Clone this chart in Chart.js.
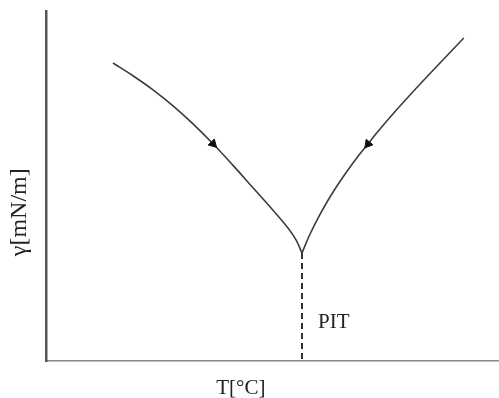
<!DOCTYPE html>
<html>
<head>
<meta charset="utf-8">
<title>PIT</title>
<script src="https://cdn.jsdelivr.net/npm/chart.js@4/dist/chart.umd.min.js"></script>
<style>
  html, body { margin: 0; padding: 0; background: #fff; }
  canvas { display: block; }
</style>
</head>
<body>
<canvas id="pitChart" width="499" height="398"></canvas>
<script>
// cooling branch (left) and heating branch (right), arbitrary units 0..100
const coolT = [14.79, 19.21, 23.62, 28.04, 32.45, 36.87, 41.28, 45.70, 50.11, 53.42, 55.19, 56.51];
const coolGamma = [85.14, 81.49, 77.49, 72.91, 67.77, 62.06, 55.89, 49.49, 43.09, 38.0, 34.6, 30.86];
const heatT = [56.51, 58.19, 60.40, 62.96, 65.87, 69.09, 71.08, 72.63, 76.38, 80.35, 84.46, 88.65, 92.23];
const heatGamma = [30.86, 36.0, 41.71, 47.43, 53.14, 58.86, 62.0, 64.57, 70.29, 76.0, 81.71, 87.43, 92.29];
const pitT = 56.51;
const pitGamma = 30.86;

// which point of each branch carries the arrow head
const coolArrowAt = 5;
const heatArrowAt = 6;

const xTitle = 'T[°C]';
const yTitle = 'γ[mN/m]';
const pitText = 'PIT';

const toPoints = (xs, ys) => xs.map((x, i) => ({ x: x, y: ys[i] }));

const arrowRadius = at => ctx => ctx.dataIndex === at ? 5 : 0;

// text labels drawn on top of the chart
const labels = {
  id: 'labels',
  afterDraw(chart) {
    const c = chart.ctx;
    const area = chart.chartArea;
    const xs = chart.scales.x;
    const ys = chart.scales.y;
    c.save();
    c.fillStyle = '#222';
    c.font = '21px "Liberation Serif", "Times New Roman", serif';
    c.textBaseline = 'alphabetic';
    c.textAlign = 'left';
    c.fillText(pitText, xs.getPixelForValue(pitT) + 16, ys.getPixelForValue(9.4));

    c.textAlign = 'center';
    c.textBaseline = 'middle';
    c.fillText(xTitle, area.left + (area.right - area.left) * 0.43, area.bottom + 27);

    c.font = '24px "Liberation Serif", "Times New Roman", serif';
    c.translate(area.left - 26, area.top + (area.bottom - area.top) * 0.575);
    c.rotate(-Math.PI / 2);
    c.fillText(yTitle, 0, 0);
    c.restore();
  }
};

new Chart(document.getElementById('pitChart'), {
  type: 'line',
  data: {
    datasets: [{
      label: 'cooling',
      data: toPoints(coolT, coolGamma),
      borderColor: '#3c3c3c',
      borderWidth: 1.6,
      tension: 0.4,
      pointStyle: 'triangle',
      pointRadius: arrowRadius(coolArrowAt),
      pointRotation: 135,
      pointBackgroundColor: '#111',
      pointBorderColor: '#111',
      pointBorderWidth: 1
    }, {
      label: 'heating',
      data: toPoints(heatT, heatGamma),
      borderColor: '#3c3c3c',
      borderWidth: 1.6,
      tension: 0.4,
      pointStyle: 'triangle',
      pointRadius: arrowRadius(heatArrowAt),
      pointRotation: 219,
      pointBackgroundColor: '#111',
      pointBorderColor: '#111',
      pointBorderWidth: 1
    }, {
      label: 'PIT',
      data: [{ x: pitT, y: pitGamma }, { x: pitT, y: 0 }],
      borderColor: '#333',
      borderWidth: 2,
      borderDash: [6, 4],
      pointRadius: 0
    }]
  },
  options: {
    responsive: false,
    animation: false,
    layout: { padding: { left: 46, top: 11, right: 0, bottom: 37 } },
    plugins: {
      legend: { display: false },
      tooltip: { enabled: false }
    },
    scales: {
      x: {
        type: 'linear',
        min: 0,
        max: 100,
        grid: { display: false, drawTicks: false },
        ticks: { display: false },
        border: { display: true, color: '#888', width: 1.5 }
      },
      y: {
        min: 0,
        max: 100,
        grid: { display: false, drawTicks: false },
        ticks: { display: false },
        border: { display: true, color: '#555', width: 2.5 }
      }
    }
  },
  plugins: [labels]
});
</script>
</body>
</html>
